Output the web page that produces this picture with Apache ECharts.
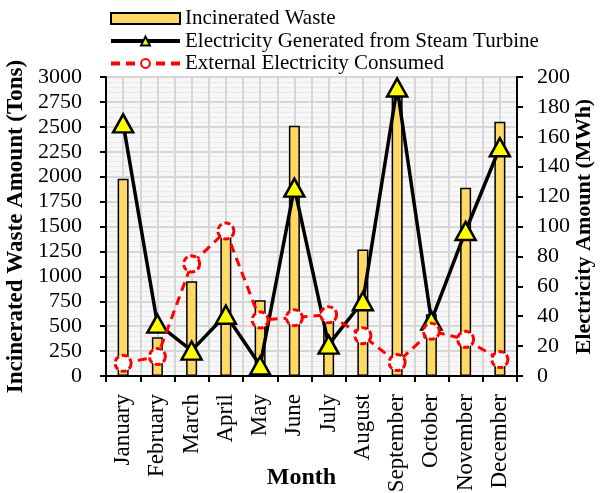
<!DOCTYPE html>
<html><head><meta charset="utf-8">
<script src="https://cdn.jsdelivr.net/npm/echarts@6/dist/echarts.min.js"></script>
<style>html,body{margin:0;padding:0;background:#fff}#c{width:606px;height:493px}</style>
</head><body><div id="c"></div>
<script>
const months = ['January','February','March','April','May','June','July','August','September','October','November','December'];
const incineratedWaste = [1980, 390, 950, 1430, 760, 2510, 580, 1270, 2850, 620, 1890, 2550];
const electricityGenerated = [169, 35, 17, 41, 7, 126, 21, 50, 193, 37, 97, 153];
const externalConsumed = [8.5, 13, 75, 97, 37.5, 39, 41, 27, 9, 30, 24.5, 11];
const leftTicks = {min: 0, max: 3000, interval: 250};
const rightTicks = {min: 0, max: 200, interval: 20};

const FONT = 'Liberation Serif';
const chart = echarts.init(document.getElementById('c'), null, {renderer: 'canvas'});
chart.setOption({
  animation: false,
  textStyle: {fontFamily: FONT, color: '#000'},
  legend: {
    orient: 'vertical', left: 104, top: 3, itemWidth: 69, itemHeight: 11, itemGap: 1.5,
    textStyle: {fontFamily: FONT, fontSize: 21, color: '#000'},
    lineStyle: {width: 4},
    data: [
      {name: 'Incinerated Waste', icon: 'rect', itemStyle: {borderWidth: 2}},
      {name: 'Electricity Generated from Steam Turbine'},
      {name: 'External Electricity Consumed'}
    ]
  },
  grid: {left: 106, right: 89, top: 77, bottom: 117, outerBoundsMode: 'none', containLabel: false,
         show: true, backgroundColor: '#f7f7f7', borderWidth: 0},
  xAxis: [{
    type: 'category', data: months, boundaryGap: true,
    name: 'Month', nameLocation: 'middle', nameGap: 90, nameMoveOverlap: false,
    nameTextStyle: {fontFamily: FONT, fontSize: 24, fontWeight: 'bold', color: '#000', padding: [0, 20, 0, 0]},
    axisLine: {lineStyle: {color: '#000', width: 2}},
    axisTick: {show: true, length: 6, lineStyle: {color: '#000', width: 2}},
    axisLabel: {rotate: 90, fontFamily: FONT, fontSize: 23, color: '#000', margin: 18, interval: 0},
    splitLine: {show: false}
  }, {
    type: 'value', min: 0, max: 24, interval: 1, position: 'top',
    axisLine: {show: false}, axisTick: {show: false}, axisLabel: {show: false},
    splitLine: {show: true, lineStyle: {color: '#d6d6d6', width: 2}}
  }],
  yAxis: [{
    type: 'value', min: leftTicks.min, max: leftTicks.max, interval: leftTicks.interval, position: 'left',
    name: 'Incinerated Waste Amount (Tons)', nameLocation: 'middle', nameGap: 78, nameRotate: 90, nameMoveOverlap: false,
    nameTextStyle: {fontFamily: FONT, fontSize: 23, fontWeight: 'bold', color: '#000'},
    axisLine: {show: true, lineStyle: {color: '#000', width: 2}},
    axisTick: {show: true, length: 6, lineStyle: {color: '#000', width: 2}},
    axisLabel: {fontFamily: FONT, fontSize: 22, color: '#000', margin: 24, formatter: v => String(v)},
    splitLine: {show: true, lineStyle: {color: '#d6d6d6', width: 2}},
    minorTick: {show: false, splitNumber: 5},
    minorSplitLine: {show: true, lineStyle: {color: '#e9e9e9', width: 1}}
  }, {
    type: 'value', min: rightTicks.min, max: rightTicks.max, interval: rightTicks.interval, position: 'right',
    name: 'Electricity Amount (MWh)', nameLocation: 'middle', nameGap: 56, nameRotate: 90, nameMoveOverlap: false,
    nameTextStyle: {fontFamily: FONT, fontSize: 22, fontWeight: 'bold', color: '#000'},
    axisLine: {show: true, lineStyle: {color: '#000', width: 2}},
    axisTick: {show: true, length: 6, lineStyle: {color: '#000', width: 2}},
    axisLabel: {fontFamily: FONT, fontSize: 22, color: '#000', margin: 20, formatter: v => String(v)},
    splitLine: {show: false}
  }],
  series: [{
    name: 'Incinerated Waste', type: 'bar', xAxisIndex: 0, yAxisIndex: 0, data: incineratedWaste,
    barWidth: 11,
    itemStyle: {color: '#FFD966', borderColor: '#000', borderWidth: 1.5}, z: 2
  }, {
    name: 'Electricity Generated from Steam Turbine', type: 'line', xAxisIndex: 0, yAxisIndex: 1, data: electricityGenerated,
    symbol: 'triangle', symbolSize: [20, 18],
    lineStyle: {color: '#000', width: 3.5},
    itemStyle: {color: '#FFFF00', borderColor: '#000', borderWidth: 2.5}, z: 3
  }, {
    name: 'External Electricity Consumed', type: 'line', xAxisIndex: 0, yAxisIndex: 1, data: externalConsumed,
    symbol: 'circle', symbolSize: 16,
    lineStyle: {color: '#FF0000', width: 3, type: [9, 6]},
    itemStyle: {color: '#ffffff', borderColor: '#FF0000', borderWidth: 3, borderType: [6, 3]}, z: 4
  }]
});
</script></body></html>
